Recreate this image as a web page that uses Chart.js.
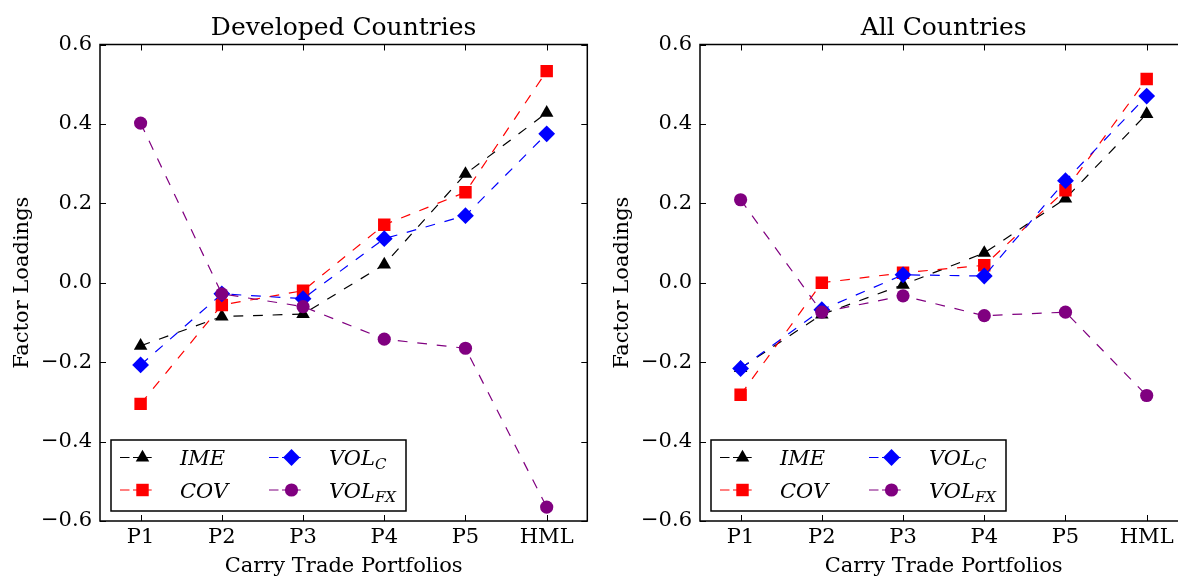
<!DOCTYPE html>
<html><head><meta charset="utf-8">
<script src="https://cdn.jsdelivr.net/npm/chart.js@4.4.1/dist/chart.umd.min.js"></script>
<style>
html,body{margin:0;padding:0;background:#fff;overflow:hidden;width:1178px;height:579px;position:relative}
canvas{position:absolute;top:0}
#c1{left:0}
#c2{left:600px}
</style></head><body>
<canvas id="c1" width="600" height="579"></canvas>
<canvas id="c2" width="600" height="579"></canvas>
<script>
// ---- data ----
const categories = ['P1', 'P2', 'P3', 'P4', 'P5', 'HML'];
const yTicks = [-0.6, -0.4, -0.2, 0.0, 0.2, 0.4, 0.6];
const devIME   = [-0.159, -0.085, -0.079, 0.046, 0.274, 0.428];
const devCOV   = [-0.305, -0.056, -0.020, 0.146, 0.228, 0.533];
const devVOLC  = [-0.207, -0.028, -0.040, 0.111, 0.169, 0.375];
const devVOLFX = [0.402, -0.028, -0.060, -0.142, -0.165, -0.565];
const allIME   = [-0.215, -0.080, -0.005, 0.075, 0.212, 0.425];
const allCOV   = [-0.282, 0.000, 0.025, 0.044, 0.233, 0.513];
const allVOLC  = [-0.216, -0.068, 0.020, 0.017, 0.257, 0.470];
const allVOLFX = [0.209, -0.074, -0.033, -0.083, -0.074, -0.284];
const seriesNames = ['IME', 'COV', 'VOL_C', 'VOL_FX'];
const legendBase = ['IME', 'COV', 'VOL', 'VOL'];
const legendSub = ['', '', 'C', 'FX'];

// ---- styles ----
const colors = ['#000000', '#ff0000', '#0000ff', '#800080'];
const pStyles = ['triangle', 'rect', 'rectRot', 'circle'];
const pRadius = [7.8, 8.8, 8.4, 6.6];
const SERIF = "'DejaVu Serif', serif";

function fmt(v) {
  if (Math.abs(v) < 1e-9) return '0.0';
  return (v < 0 ? '\u2212' : '') + Math.abs(v).toFixed(1);
}

function drawMarker(ctx, style, r, x, y, color) {
  ctx.fillStyle = color;
  ctx.beginPath();
  if (style === 'circle') {
    ctx.arc(x, y, r, 0, Math.PI * 2);
  } else if (style === 'triangle') {
    let rad = 0;
    ctx.moveTo(x + Math.sin(rad) * r, y - Math.cos(rad) * r);
    rad += 2 * Math.PI / 3;
    ctx.lineTo(x + Math.sin(rad) * r, y - Math.cos(rad) * r);
    rad += 2 * Math.PI / 3;
    ctx.lineTo(x + Math.sin(rad) * r, y - Math.cos(rad) * r);
  } else if (style === 'rect') {
    const s = r * Math.SQRT1_2;
    ctx.rect(x - s, y - s, 2 * s, 2 * s);
  } else {
    ctx.moveTo(x, y - r); ctx.lineTo(x + r, y); ctx.lineTo(x, y + r); ctx.lineTo(x - r, y);
  }
  ctx.closePath();
  ctx.fill();
}

const framePlugin = {
  id: 'frame',
  afterDatasetsDraw(chart) {
    const ctx = chart.ctx, a = chart.chartArea, xs = chart.scales.x, ys = chart.scales.y;
    ctx.save();
    ctx.strokeStyle = '#000';
    ctx.lineWidth = 1;
    ctx.setLineDash([]);
    ctx.beginPath();
    xs.ticks.forEach((t, i) => {
      const px = Math.round(xs.getPixelForTick(i)) + 0.5;
      ctx.moveTo(px, a.bottom); ctx.lineTo(px, a.bottom - 6);
      ctx.moveTo(px, a.top); ctx.lineTo(px, a.top + 6);
    });
    ys.ticks.forEach((t, i) => {
      const py = Math.round(ys.getPixelForTick(i)) + 0.5;
      ctx.moveTo(a.left, py); ctx.lineTo(a.left + 6, py);
      ctx.moveTo(a.right, py); ctx.lineTo(a.right - 6, py);
    });
    ctx.stroke();
    ctx.lineWidth = 1.5;
    ctx.strokeRect(a.left, a.top, a.right - a.left, a.bottom - a.top);

    // legend box
    const bx = a.left + 11, by = a.bottom - 81, bw = 295, bh = 71;
    ctx.fillStyle = '#fff';
    ctx.fillRect(bx, by, bw, bh);
    ctx.strokeRect(bx, by, bw, bh);
    const ds = chart.data.datasets;
    const cols = [a.left + 20, a.left + 169];
    const rows = [a.bottom - 63.5, a.bottom - 31];
    ds.forEach((d, i) => {
      const col = i < 2 ? 0 : 1, row = i % 2;
      const x0 = cols[col], y0 = rows[row];
      ctx.strokeStyle = d.borderColor;
      ctx.lineWidth = 1.2;
      ctx.beginPath();
      ctx.moveTo(x0, y0); ctx.lineTo(x0 + 9.5, y0);
      ctx.moveTo(x0 + 13, y0); ctx.lineTo(x0 + 31.7, y0);
      ctx.stroke();
      drawMarker(ctx, d.pointStyle, d.pointRadius, x0 + 22.5, y0, d.pointBackgroundColor);
      ctx.fillStyle = '#000';
      ctx.textBaseline = 'alphabetic';
      ctx.textAlign = 'left';
      ctx.font = "italic 21px " + SERIF;
      const tx = x0 + 60, ty = y0 + 7.5;
      ctx.fillText(legendBase[i], tx, ty);
      if (legendSub[i]) {
        const w = ctx.measureText(legendBase[i]).width;
        ctx.font = "italic 15px " + SERIF;
        ctx.fillText(legendSub[i], tx + w, ty + 4);
      }
    });
    ctx.restore();
  }
};

function makeDatasets(vals) {
  return vals.map((v, i) => ({
    label: seriesNames[i],
    data: v,
    borderColor: colors[i],
    backgroundColor: colors[i],
    pointBackgroundColor: colors[i],
    pointBorderColor: colors[i],
    pointBorderWidth: 0,
    pointStyle: pStyles[i],
    pointRadius: pRadius[i],
    borderWidth: 1.2,
    borderDash: [9.8, 9.8],
    tension: 0,
    fill: false,
    order: 3 - i
  }));
}

function makeChart(id, title, vals) {
  return new Chart(document.getElementById(id), {
    type: 'line',
    data: { labels: categories, datasets: makeDatasets(vals) },
    options: {
      responsive: false,
      animation: false,
      devicePixelRatio: 1,
      layout: { padding: { left: 0, right: 12.7, top: 0, bottom: 0 } },
      plugins: {
        legend: { display: false },
        tooltip: { enabled: false },
        title: {
          display: true, text: title, fullSize: false, color: '#000',
          font: { family: SERIF, size: 25, weight: 'normal' },
          padding: { top: 13, bottom: 1.5 }
        }
      },
      scales: {
        x: {
          type: 'category', offset: true,
          grid: { display: false, drawTicks: false },
          border: { display: false },
          ticks: { color: '#000', font: { family: SERIF, size: 21 }, padding: 4, maxRotation: 0, autoSkip: false },
          title: { display: true, text: 'Carry Trade Portfolios', color: '#000', font: { family: SERIF, size: 21 }, padding: { top: 0, bottom: 0 } },
          afterFit(s) { s.height = 58; }
        },
        y: {
          min: -0.6, max: 0.6,
          afterBuildTicks(s) { s.ticks = yTicks.map(v => ({ value: v })); },
          grid: { display: false, drawTicks: false },
          border: { display: false },
          ticks: { color: '#000', font: { family: SERIF, size: 21 }, padding: 8, callback: v => fmt(v) },
          title: { display: true, text: 'Factor Loadings', color: '#000', font: { family: SERIF, size: 21 }, padding: { top: 10, bottom: 0 } },
          afterFit(s) { s.width = 100; }
        }
      }
    },
    plugins: [framePlugin]
  });
}

makeChart('c1', 'Developed Countries', [devIME, devCOV, devVOLC, devVOLFX]);
makeChart('c2', 'All Countries', [allIME, allCOV, allVOLC, allVOLFX]);
</script>
</body></html>
